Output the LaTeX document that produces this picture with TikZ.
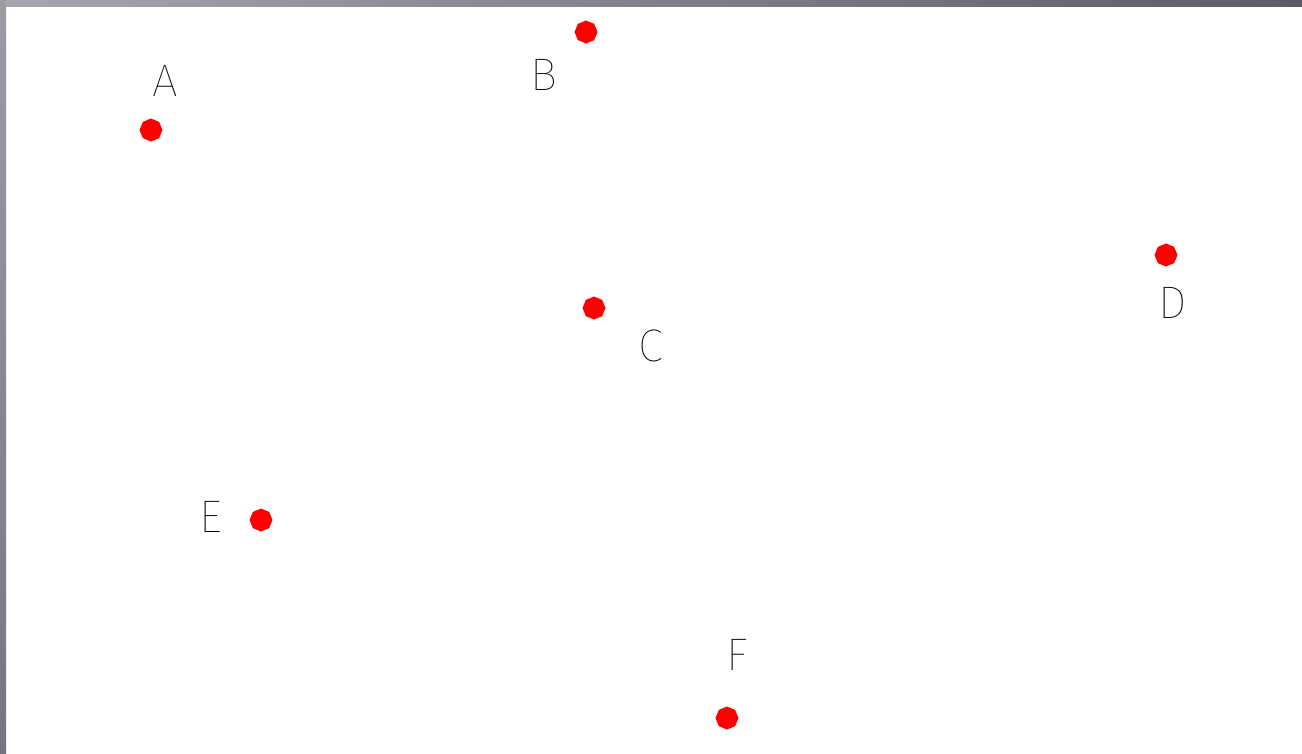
\documentclass[tikz,border=0pt]{standalone}
\usepackage{fontspec}
\usepackage{tikz}
\usetikzlibrary{shapes.geometric}

\newfontfamily\thinfont{Fira Sans Thin}

\definecolor{barlight}{HTML}{A8A6AD}
\definecolor{bardark}{HTML}{5E5C63}
\definecolor{sidetop}{HTML}{9D9CA3}
\definecolor{sidebottom}{HTML}{77757C}

\begin{document}
\begin{tikzpicture}[
    x=0.02cm, y=-0.02cm, % one unit is one pixel
    dot/.style={fill=red, regular polygon, regular polygon sides=8, shape border rotate=22.5, minimum size=0.46cm, inner sep=0pt}, % Style for points
    letter/.style={font=\thinfont\fontsize{26}{30}\selectfont, inner sep=0pt}
]

\useasboundingbox (0,0) rectangle (1302,754);
\fill[white] (0,0) rectangle (1302,754);

% Frame
\shade[left color=barlight, right color=bardark] (0,0) rectangle (1302,6);
\shade[top color=sidetop, bottom color=sidebottom] (0,0) rectangle (6,754);

% Points
\node[dot] (pA) at (151,130) {};
\node[dot] (pB) at (586,32) {};
\node[dot] (pC) at (594,308) {};
\node[dot] (pD) at (1166,255) {};
\node[dot] (pE) at (261,520) {};
\node[dot] (pF) at (727,718) {};

% Labels
\node[letter] (lA) at (165,81) {A};
\node[letter] (lB) at (544,75) {B};
\node[letter] (lC) at (651,346) {C};
\node[letter] (lD) at (1173,303) {D};
\node[letter] (lE) at (211,517) {E};
\node[letter] (lF) at (737,655) {F};

\end{tikzpicture}
\end{document}
